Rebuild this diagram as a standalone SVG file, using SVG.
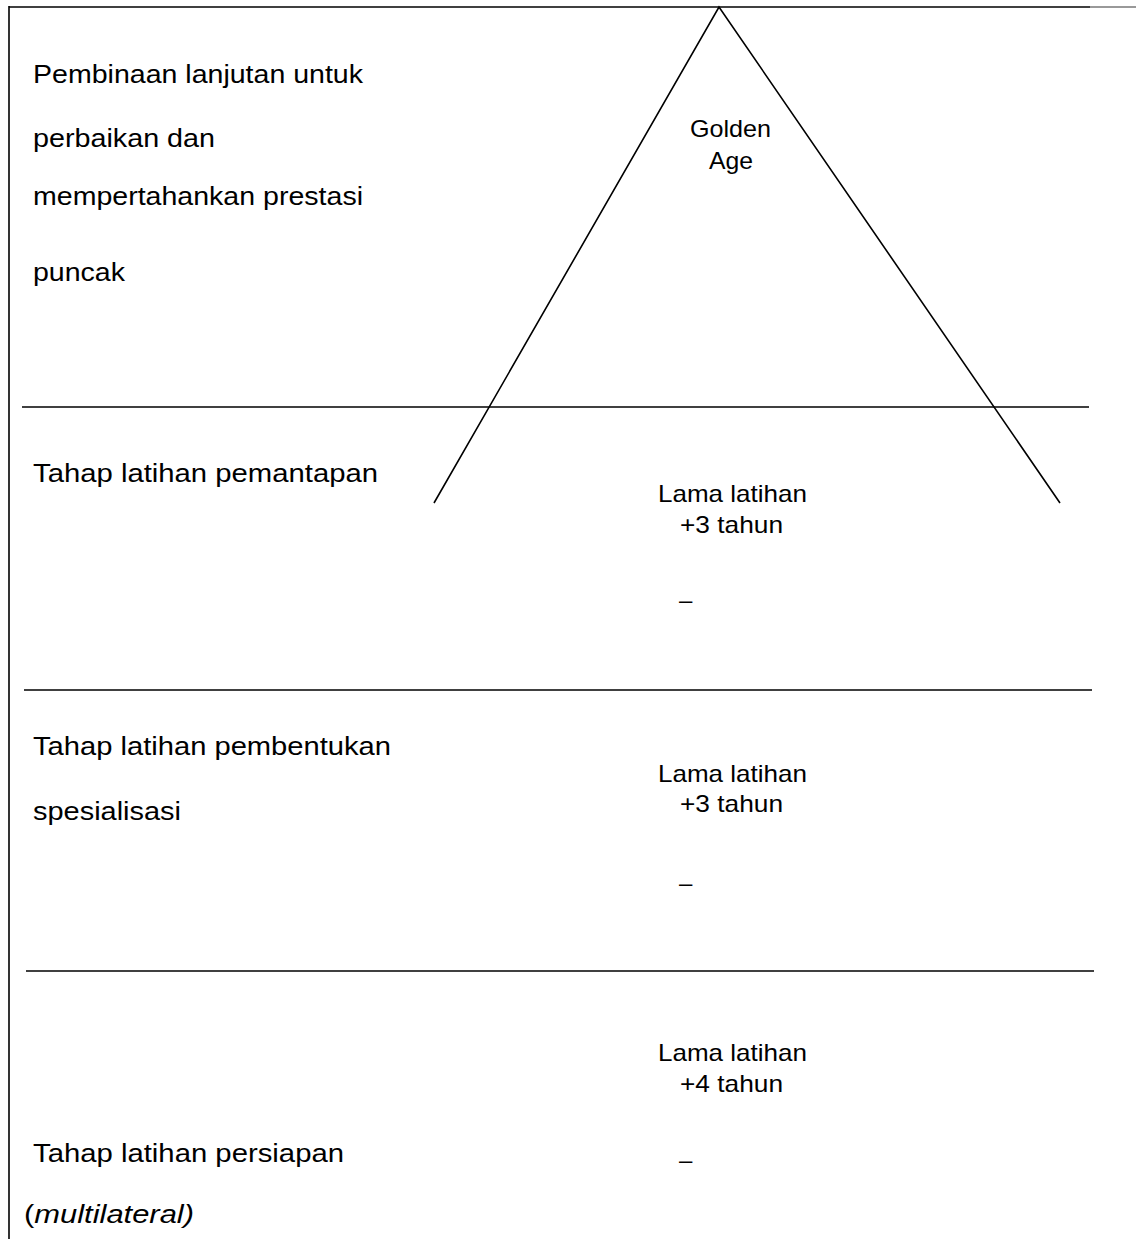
<svg xmlns="http://www.w3.org/2000/svg" width="1136" height="1239" viewBox="0 0 1136 1239">
<style>
.ln{stroke:#000;stroke-width:1.6;fill:none}
.lbl{font-family:"Liberation Sans",Arial,sans-serif;font-size:26px;fill:#000}
.ctr{font-family:"Liberation Sans",Arial,sans-serif;font-size:24px;fill:#000}
</style>
<rect width="1136" height="1239" fill="#fff"/>
<g id="connectors">
<line class="ln" x1="9" y1="7" x2="1090" y2="7" stroke-width="2"/>
<line x1="1090" y1="7" x2="1136" y2="7" stroke="#999" stroke-width="2"/>
<line class="ln" x1="9" y1="6" x2="9" y2="1239" stroke-width="2"/>
<polyline class="ln" points="434,503 719,7 1060,503"/>
<line class="ln" x1="22" y1="407" x2="1089" y2="407"/>
<line class="ln" x1="24" y1="690" x2="1092" y2="690"/>
<line class="ln" x1="26" y1="971" x2="1094" y2="971"/>
</g>
<g id="stage-peak">
<text class="lbl" x="33" y="83" textLength="330" lengthAdjust="spacingAndGlyphs">Pembinaan lanjutan untuk</text>
<text class="lbl" x="33" y="147" textLength="182" lengthAdjust="spacingAndGlyphs">perbaikan dan</text>
<text class="lbl" x="33" y="205" textLength="330" lengthAdjust="spacingAndGlyphs">mempertahankan prestasi</text>
<text class="lbl" x="33" y="281" textLength="92" lengthAdjust="spacingAndGlyphs">puncak</text>
</g>
<g id="golden-age">
<text class="ctr" x="690" y="137" textLength="81" lengthAdjust="spacingAndGlyphs">Golden</text>
<text class="ctr" x="709" y="169" textLength="44" lengthAdjust="spacingAndGlyphs">Age</text>
</g>
<g id="stage-pemantapan">
<text class="lbl" x="33" y="482" textLength="345" lengthAdjust="spacingAndGlyphs">Tahap latihan pemantapan</text>
<text class="ctr" x="658" y="502" textLength="149" lengthAdjust="spacingAndGlyphs">Lama latihan</text>
<text class="ctr" x="680" y="533" textLength="103" lengthAdjust="spacingAndGlyphs">+3 tahun</text>
<text class="ctr" x="679" y="608">–</text>
</g>
<g id="stage-spesialisasi">
<text class="lbl" x="33" y="755" textLength="358" lengthAdjust="spacingAndGlyphs">Tahap latihan pembentukan</text>
<text class="lbl" x="33" y="820" textLength="148" lengthAdjust="spacingAndGlyphs">spesialisasi</text>
<text class="ctr" x="658" y="782" textLength="149" lengthAdjust="spacingAndGlyphs">Lama latihan</text>
<text class="ctr" x="680" y="812" textLength="103" lengthAdjust="spacingAndGlyphs">+3 tahun</text>
<text class="ctr" x="679" y="891">–</text>
</g>
<g id="stage-persiapan">
<text class="ctr" x="658" y="1061" textLength="149" lengthAdjust="spacingAndGlyphs">Lama latihan</text>
<text class="ctr" x="680" y="1092" textLength="103" lengthAdjust="spacingAndGlyphs">+4 tahun</text>
<text class="ctr" x="679" y="1168">–</text>
<text class="lbl" x="33" y="1162" textLength="311" lengthAdjust="spacingAndGlyphs">Tahap latihan persiapan</text>
<text class="lbl" x="24" y="1223" textLength="170" lengthAdjust="spacingAndGlyphs">(<tspan font-style="italic">multilateral)</tspan></text>
</g>
</svg>
